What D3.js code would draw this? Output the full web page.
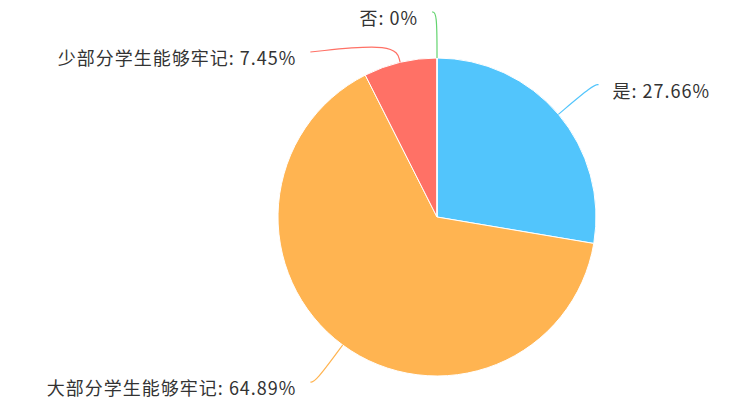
<!DOCTYPE html>
<html><head><meta charset="utf-8">
<script src="https://cdn.jsdelivr.net/npm/d3@7/dist/d3.min.js"></script>
<style>html,body{margin:0;padding:0;background:#fff;}svg{display:block;}</style>
</head><body><svg id="c" width="746" height="420"></svg>
<script>
const categories = ["是", "大部分学生能够牢记", "少部分学生能够牢记", "否"];
const values = [27.66, 64.89, 7.45, 0];
const colors = ["#52c5fc", "#ffb451", "#ff7166", "#63d46f"];

const W = 746, H = 420, cx = 437, cy = 217, R = 159;
const len1 = 46, len2 = 5, gap = 14, minSpace = 40;
const svg = d3.select("#c");
const g = svg.append("g").attr("transform", `translate(${cx},${cy})`);

const pie = d3.pie().value(d => d.v).sort(null);
const data = categories.map((c, i) => ({ c, v: values[i], col: colors[i] }));
const arcs = pie(data);
const arc = d3.arc().innerRadius(0).outerRadius(R);

g.selectAll("path.s").data(arcs).join("path")
  .attr("class", "s").attr("d", arc)
  .attr("fill", d => d.data.col)
  .attr("stroke", "#fff").attr("stroke-width", 1).attr("stroke-linejoin", "round");

// label layout (ECharts-like)
const labs = arcs.map(a => {
  const m = (a.startAngle + a.endAngle) / 2;
  const s = Math.sin(m), c = -Math.cos(m);
  const p0 = [s * R, c * R];
  const re = R + len1;
  const p1 = [s * re, c * re];
  const side = (s > 0.0001) ? 1 : -1;
  return { a, m, s, c, p0, p1, side, y: p1[1], shifted: false };
});
[-1, 1].forEach(side => {
  const L = labs.filter(l => l.side === side).sort((a, b) => a.y - b.y);
  for (let i = 1; i < L.length; i++) {
    if (L[i].y - L[i - 1].y < minSpace) { L[i].y = L[i - 1].y + minSpace; L[i].shifted = true; }
  }
});
const re = R + len1;
labs.forEach(l => {
  let ex;
  if (l.shifted) {
    const dx = Math.sqrt(Math.max(0, re * re - l.y * l.y));
    l.p1 = [l.s * (R + 20), l.c * (R + 20)];
    ex = l.side * dx + l.side * len2;
  } else {
    ex = l.p1[0] + l.side * len2;
  }
  l.p2 = [ex, l.y];
  l.tx = ex + l.side * gap;
});

const line = d3.line().curve(d3.curveBasis);
g.selectAll("path.l").data(labs).join("path")
  .attr("class", "l")
  .attr("d", l => line([l.p0, l.p1, l.p2]))
  .attr("fill", "none").attr("stroke", l => l.a.data.col).attr("stroke-width", 1.2);

g.selectAll("text.t").data(labs).join("text")
  .attr("class", "t")
  .attr("x", l => l.tx).attr("y", l => l.y + 7)
  .attr("dy", "0.35em")
  .attr("text-anchor", l => l.side > 0 ? "start" : "end")
  .attr("font-family", "'Noto Sans CJK SC', 'Noto Sans', sans-serif")
  .attr("font-size", 18).attr("letter-spacing", 1).attr("fill", "#333")
  .text(l => `${l.a.data.c}: ${d3.format("")(l.a.data.v)}%`);
</script></body></html>
